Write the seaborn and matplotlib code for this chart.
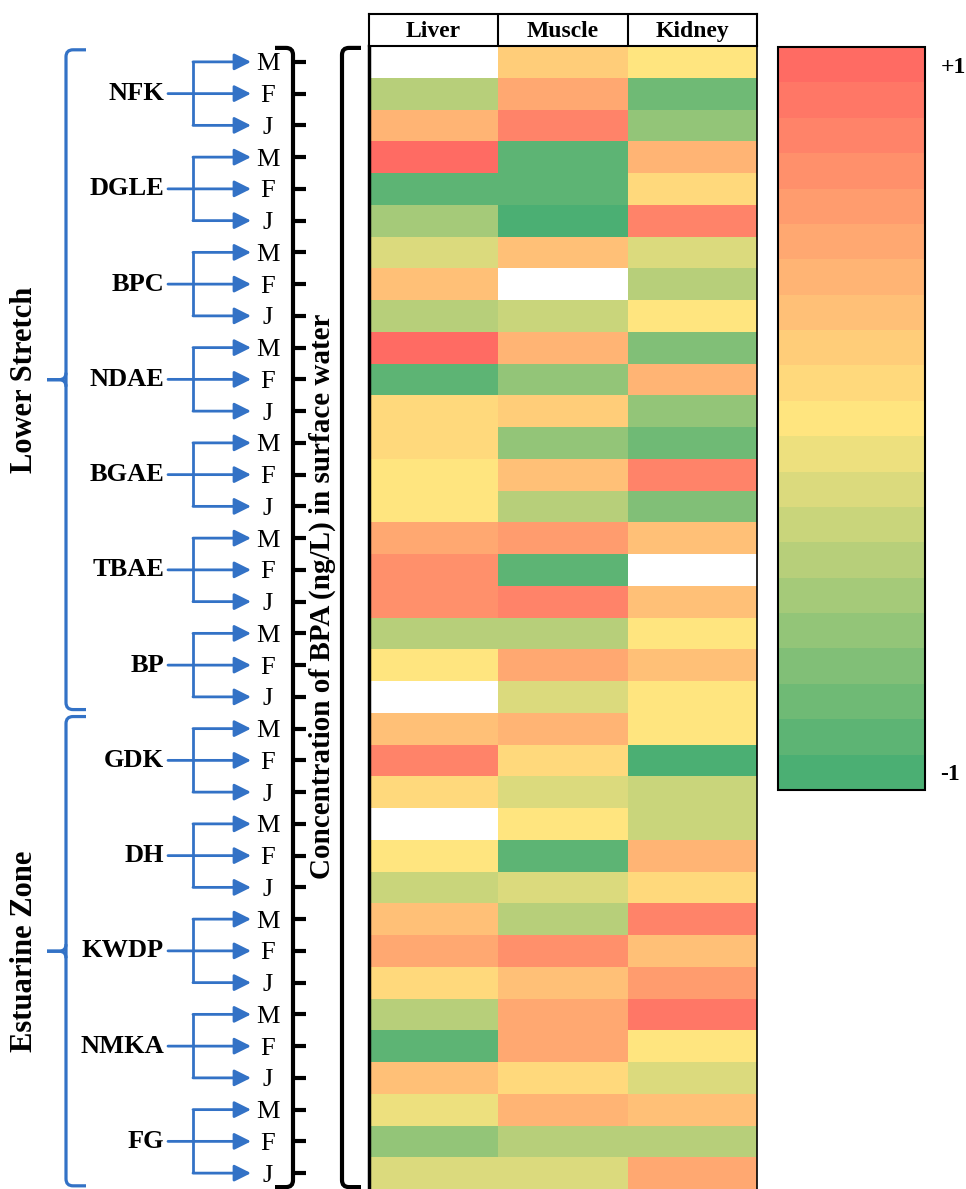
import numpy as np
import pandas as pd
import seaborn as sns
import matplotlib.pyplot as plt
from matplotlib.colors import LinearSegmentedColormap
from matplotlib.path import Path
from matplotlib.patches import PathPatch

nan = np.nan

sites = ['NFK', 'DGLE', 'BPC', 'NDAE', 'BGAE', 'TBAE', 'BP',
         'GDK', 'DH', 'KWDP', 'NMKA', 'FG']
zone_names = ['Lower Stretch', 'Estuarine Zone']
zone_sizes = [7, 5]
stages = ['M', 'F', 'J']
tissues = ['Liver', 'Muscle', 'Kidney']

# correlation with BPA in surface water, rows = site x stage (NaN = blank cell)
liver = [nan, -0.35, 0.35, 0.95, -0.85, -0.45, -0.15, 0.33, -0.35,
         0.95, -0.88, 0.1, 0.1, 0.02, 0.02, 0.5, 0.65, 0.65,
         -0.4, 0.02, nan, 0.25, 0.78, 0.1, nan, 0.02, -0.32,
         0.33, 0.45, 0.1, -0.38, -0.88, 0.27, -0.08, -0.55, -0.22]
muscle = [0.2, 0.45, 0.75, -0.85, -0.85, -0.95, 0.25, nan, -0.25,
          0.35, -0.55, 0.2, -0.55, 0.25, -0.35, 0.6, -0.85, 0.78,
          -0.4, 0.5, -0.15, 0.38, 0.1, -0.18, 0.0, -0.9, -0.15,
          -0.42, 0.62, 0.27, 0.5, 0.5, 0.1, 0.38, -0.35, -0.18]
kidney = [0.0, -0.75, -0.55, 0.4, 0.1, 0.75, -0.22, -0.35, 0.0,
          -0.65, 0.35, -0.58, -0.72, 0.78, -0.62, 0.25, nan, 0.25,
          0.02, 0.33, 0.0, 0.02, -0.98, -0.25, -0.28, 0.4, 0.1,
          0.78, 0.27, 0.58, 0.88, 0.02, -0.15, 0.25, -0.38, 0.45]

row_labels = [s for _ in sites for s in stages]
df = pd.DataFrame({'Liver': liver, 'Muscle': muscle, 'Kidney': kidney})
df.index = [f'{site}-{st}' for site in sites for st in stages]
n_rows = len(df)

sns.set_style('white')
plt.rcParams['font.family'] = ['Liberation Serif', 'DejaVu Serif']
plt.rcParams['text.color'] = 'black'
plt.rcParams['ytick.color'] = 'black'
plt.rcParams['ytick.labelcolor'] = 'black'

W, H = 966, 1189
BLUE = '#3372C6'


def box(x0, y0, x1, y1):
    return [x0 / W, 1 - y1 / H, (x1 - x0) / W, (y1 - y0) / H]


TOP, BOT = 46, 1189
ROW_PX = (BOT - TOP) / n_rows


def bracket(ax, x_line, x_end, y0, y1, color, lw, r=7):
    sgn = 1 if x_end > x_line else -1
    ry = r / ROW_PX
    verts = [(x_end, y0), (x_line + sgn * r, y0), (x_line, y0), (x_line, y0 + ry),
             (x_line, y1 - ry), (x_line, y1), (x_line + sgn * r, y1), (x_end, y1)]
    codes = [Path.MOVETO, Path.LINETO, Path.CURVE3, Path.CURVE3,
             Path.LINETO, Path.CURVE3, Path.CURVE3, Path.LINETO]
    ax.add_patch(PathPatch(Path(verts, codes), fill=False, ec=color, lw=lw,
                           clip_on=False, capstyle='butt'))


def brace(ax, y0, y1, xv=66, xe=86, xt=47, lw=2.3, r=7):
    bracket(ax, xv, xe, y0, y1, BLUE, lw, r)
    ym = (y0 + y1) / 2
    ry = r / ROW_PX
    for s in (-1, 1):
        verts = [(xv, ym + s * ry), (xv, ym), (xv - r, ym), (xt, ym)]
        codes = [Path.MOVETO, Path.CURVE3, Path.CURVE3, Path.LINETO]
        ax.add_patch(PathPatch(Path(verts, codes), fill=False, ec=BLUE, lw=lw,
                               clip_on=False))


fig = plt.figure(figsize=(W / 100, H / 100), dpi=100)

# heatmap + colorbar
ax_hm = fig.add_axes(box(369, TOP, 757, BOT))
cax = fig.add_axes(box(778, 47, 925, 790))
base = LinearSegmentedColormap.from_list('ryg', ['#4BAF73', '#FFE57F', '#FF6B63'])
cmap = base.resampled(21)
sns.heatmap(df, ax=ax_hm, cmap=cmap, vmin=-1, vmax=1, cbar_ax=cax,
            xticklabels=False, yticklabels=False)
ax_hm.tick_params(left=False, bottom=False)
ax_hm.spines['left'].set_visible(True)
ax_hm.spines['left'].set_linewidth(2.5)
ax_hm.spines['right'].set_visible(True)
ax_hm.spines['right'].set_linewidth(1.2)
for sp in ax_hm.spines.values():
    sp.set_color('black')

cbar = ax_hm.collections[0].colorbar
cbar.outline.set_edgecolor('black')
cbar.outline.set_linewidth(1.5)
cbar.set_ticks([1 - 1 / 21, -1 + 1 / 21])
cbar.set_ticklabels(['+1', '-1'])
cax.tick_params(length=0, pad=11)
for t in cax.get_yticklabels():
    t.set_fontsize(17)
    t.set_fontweight('bold')
    t.set_color('black')

# header boxes
ax_head = fig.add_axes(box(369, 14, 757, TOP))
ax_head.set_xlim(0, len(tissues))
ax_head.set_ylim(0, 1)
ax_head.set_xticks([])
ax_head.set_yticks([])
for sp in ax_head.spines.values():
    sp.set_visible(True)
    sp.set_color('black')
    sp.set_linewidth(1.5)
for i, name in enumerate(tissues):
    if i > 0:
        ax_head.axvline(i, color='black', lw=1.5)
    ax_head.text(i + 0.5, 0.45, name, ha='center', va='center',
                 fontsize=17, fontweight='bold')

# stage tick axis
ax_tick = fig.add_axes(box(293, TOP, 368, BOT))
ax_tick.set_xlim(293, 368)
ax_tick.set_ylim(n_rows, 0)
ax_tick.set_xticks([])
ax_tick.set_yticks(np.arange(n_rows) + 0.5, labels=row_labels)
ax_tick.tick_params(axis='y', left=True, direction='in', length=9, width=3, pad=18,
                    labelsize=19, color='black', labelcolor='black')
for t in ax_tick.get_yticklabels():
    t.set_horizontalalignment('center')
for sp in ax_tick.spines.values():
    sp.set_visible(False)
ax_tick.patch.set_alpha(0)
bracket(ax_tick, 293, 275, 0.06, n_rows - 0.06, 'black', 3)
bracket(ax_tick, 342, 361, 0.06, n_rows - 0.06, 'black', 3)
ax_tick.text(322, (596 - TOP) / ROW_PX, 'Concentration of BPA (ng/L) in surface water',
             rotation=90, ha='center', va='center', fontsize=21, fontweight='bold')

# site labels, arrows, zone braces
ax_ann = fig.add_axes(box(0, TOP, 293, BOT))
ax_ann.set_xlim(0, 293)
ax_ann.set_ylim(n_rows, 0)
ax_ann.axis('off')

arrow_kw = dict(arrowstyle='-|>,head_length=0.5,head_width=0.25', color=BLUE,
                lw=2, shrinkA=0, shrinkB=0, mutation_scale=20)
for i, site in enumerate(sites):
    y_m, y_f, y_j = 3 * i + 0.5, 3 * i + 1.5, 3 * i + 2.5
    ax_ann.text(164, y_f, site, ha='right', va='center', fontsize=19, fontweight='bold')
    ax_ann.plot([193, 193], [y_m, y_j], color=BLUE, lw=2, solid_capstyle='butt')
    ax_ann.annotate('', xy=(251, y_f), xytext=(168, y_f), arrowprops=arrow_kw)
    for y in (y_m, y_j):
        ax_ann.annotate('', xy=(251, y), xytext=(193, y), arrowprops=arrow_kw)

start = 0
for name, size in zip(zone_names, zone_sizes):
    y0, y1 = 3 * start, 3 * (start + size)
    brace(ax_ann, y0 + 0.12, y1 - 0.1)
    ax_ann.text(25, (y0 + y1) / 2, name, rotation=90, ha='center', va='center',
                fontsize=22, fontweight='bold')
    start += size

fig.savefig('out.png', dpi=100)
